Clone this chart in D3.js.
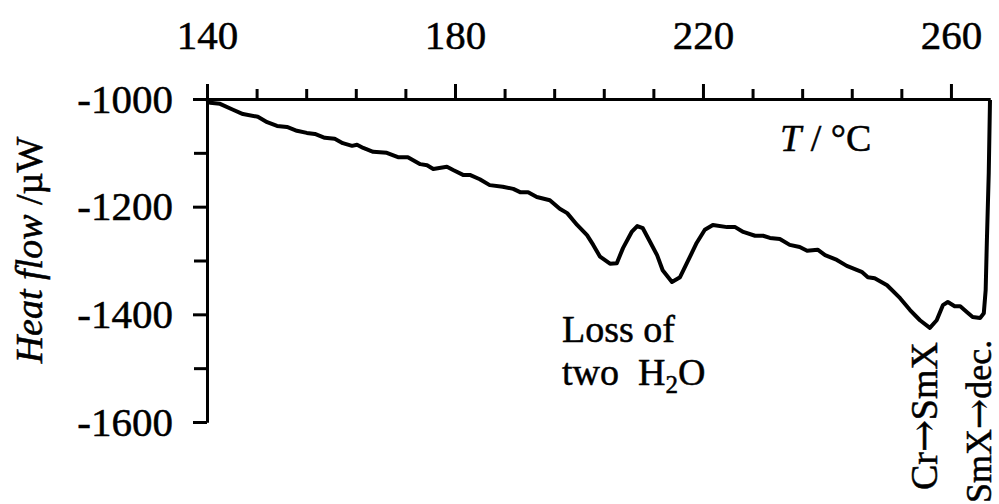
<!DOCTYPE html>
<html lang="en">
  <head>
    <meta charset="UTF-8" />
    <title>DSC heat flow</title>
    <script src="https://d3js.org/d3.v7.min.js"></script>
    <style>
      body {
        margin: 0;
        background: #fff;
      }
      svg,
      svg text,
      svg tspan {
        font-family: "Liberation Serif", "DejaVu Serif", "Times New Roman", Times, serif;
      }
      svg text {
        fill: #000;
        stroke: #000;
        stroke-width: 0.5px;
      }
      svg tspan.arrow {
        font-family: "DejaVu Serif", "DejaVu Sans", serif;
      }
      .axis path,
      .axis line {
        stroke: #000;
        stroke-width: 3px;
      }
    </style>
  </head>
  <body>
    <div id="chart"></div>

    <script>
      // temperature (°C) and heat flow (µW)
      const temps = [
        140, 140.5, 142.1, 144.2, 145.8, 148.2, 149.7, 151.3, 152.9, 154.5,
        156.1, 157.4, 159.0, 160.6, 161.9, 163.4, 164.2, 165.2, 166.8, 169.0,
        170.8, 172.4, 174.4, 175.5, 176.5, 178.7, 179.7, 181.3, 182.4, 184.0,
        185.6, 187.7, 189.4, 190.5, 191.8, 193.2, 195.3, 196.9, 198.1, 199.7,
        201.3, 202.3, 203.4, 205.0, 206.1, 207.1, 208.5, 209.4, 210.3, 211.5,
        212.6, 213.5, 215.0, 216.3, 217.4, 219.0, 220.3, 221.6, 223.9, 225.2,
        226.5, 228.4, 229.7, 230.8, 232.4, 234.0, 235.6, 236.8, 238.5, 239.7,
        241.6, 243.2, 245.6, 246.6, 247.7, 249.7, 251.8, 253.4, 255.0, 256.6,
        257.7, 258.7, 259.5, 260.6, 261.5, 262.6, 263.5, 264.7, 265.3, 265.6,
        265.8, 266.1, 266.3,
      ];
      const heatFlow = [
        -1002, -1007, -1009, -1020, -1028, -1033, -1043, -1050, -1052, -1059,
        -1063, -1065, -1072, -1074, -1082, -1087, -1085, -1091, -1098, -1100,
        -1108, -1108, -1121, -1123, -1130, -1126, -1132, -1141, -1141, -1149,
        -1160, -1163, -1167, -1173, -1173, -1182, -1188, -1204, -1212, -1234,
        -1253, -1271, -1293, -1306, -1305, -1277, -1247, -1236, -1240, -1266,
        -1290, -1318, -1340, -1331, -1305, -1267, -1243, -1234, -1238, -1238,
        -1247, -1254, -1254, -1258, -1260, -1271, -1275, -1282, -1280, -1290,
        -1299, -1310, -1321, -1331, -1333, -1346, -1370, -1392, -1411, -1425,
        -1411, -1383, -1377, -1385, -1385, -1396, -1405, -1407, -1398, -1355,
        -1262, -1137, -1002,
      ];

      const xMajor = [140, 180, 220, 260];
      const xMinor = [148, 156, 164, 172, 188, 196, 204, 212, 228, 236, 244, 252];
      const yMajor = [-1000, -1200, -1400, -1600];
      const yMinor = [-1100, -1300, -1500];

      const width = 999;
      const height = 504;
      const margin = { top: 99, right: 9, bottom: 82, left: 207 };

      const x = d3
        .scaleLinear()
        .domain([140, 266.3])
        .range([margin.left, width - margin.right]);
      const y = d3
        .scaleLinear()
        .domain([-1000, -1600])
        .range([margin.top, height - margin.bottom]);

      const svg = d3
        .select("#chart")
        .append("svg")
        .attr("width", width)
        .attr("height", height);

      const plain = (d) => String(d);

      // top x axis
      svg
        .append("g")
        .attr("class", "axis")
        .attr("transform", `translate(0,${margin.top})`)
        .call(d3.axisTop(x).tickValues(xMinor).tickSize(10).tickSizeOuter(0).tickFormat(""));
      svg
        .append("g")
        .attr("class", "axis")
        .attr("transform", `translate(0,${margin.top})`)
        .call(d3.axisTop(x).tickValues(xMajor).tickSize(15).tickSizeOuter(0).tickPadding(35).tickFormat(plain));

      // left y axis
      svg
        .append("g")
        .attr("class", "axis")
        .attr("transform", `translate(${margin.left},0)`)
        .call(d3.axisLeft(y).tickValues(yMinor).tickSize(13).tickSizeOuter(0).tickFormat(""));
      svg
        .append("g")
        .attr("class", "axis")
        .attr("transform", `translate(${margin.left},0)`)
        .call(d3.axisLeft(y).tickValues(yMajor).tickSize(14).tickSizeOuter(0).tickPadding(20).tickFormat(plain));

      svg.selectAll(".axis").attr("font-family", null).attr("font-size", 41);

      // trace
      const line = d3
        .line()
        .x((d, i) => x(temps[i]))
        .y((d) => y(d));

      svg
        .append("path")
        .datum(heatFlow)
        .attr("fill", "none")
        .attr("stroke", "#000")
        .attr("stroke-width", 4)
        .attr("stroke-linejoin", "round")
        .attr("d", line);

      // axis titles
      const yTitle = svg
        .append("text")
        .attr("transform", "translate(42,250) rotate(-90)")
        .attr("text-anchor", "middle")
        .attr("font-size", 38);
      yTitle.append("tspan").attr("font-style", "italic").text("Heat flow ");
      yTitle.append("tspan").text("/\u00b5W");

      const xTitle = svg
        .append("text")
        .attr("x", 780)
        .attr("y", 151)
        .attr("font-size", 38);
      xTitle.append("tspan").attr("font-style", "italic").text("T");
      xTitle.append("tspan").text(" / \u00b0C");

      // annotations
      svg
        .append("text")
        .attr("x", 562)
        .attr("y", 342)
        .attr("font-size", 38)
        .text("Loss of");
      const water = svg
        .append("text")
        .attr("x", 562)
        .attr("y", 385)
        .attr("font-size", 38);
      water.append("tspan").text("two\u00a0 H");
      water.append("tspan").attr("font-size", 25).attr("dy", 8).text("2");
      water.append("tspan").attr("dy", -8).text("O");

      const phase1 = svg
        .append("text")
        .attr("transform", "translate(937,490) rotate(-90)")
        .attr("font-size", 38);
      phase1.append("tspan").text("Cr");
      phase1.append("tspan").attr("class", "arrow").text("\u2192");
      phase1.append("tspan").text("SmX");

      const phase2 = svg
        .append("text")
        .attr("transform", "translate(991,503) rotate(-90)")
        .attr("font-size", 36);
      phase2.append("tspan").text("SmX");
      phase2.append("tspan").attr("class", "arrow").text("\u2192");
      phase2.append("tspan").text("dec.");
    </script>
  </body>
</html>
